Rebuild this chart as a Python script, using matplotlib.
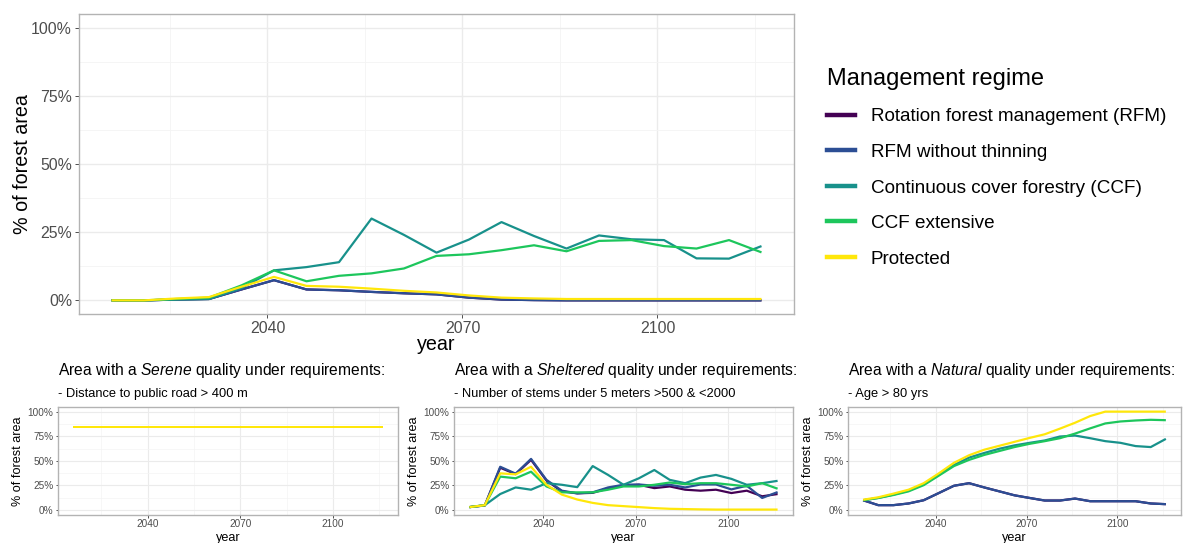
import matplotlib
matplotlib.use("Agg")
import matplotlib.pyplot as plt
from matplotlib.lines import Line2D
from matplotlib.ticker import FixedLocator, FuncFormatter

plt.rcParams['font.family'] = ['Liberation Sans', 'DejaVu Sans']
plt.rcParams['mathtext.fontset'] = 'custom'
plt.rcParams['mathtext.rm'] = 'Liberation Sans'
plt.rcParams['mathtext.it'] = 'Liberation Sans:italic'

# ---------------- data ----------------
years = [2016, 2021, 2026, 2031, 2036, 2041, 2046, 2051, 2056, 2061, 2066,
         2071, 2076, 2081, 2086, 2091, 2096, 2101, 2106, 2111, 2116]

regimes = ["Rotation forest management (RFM)", "RFM without thinning",
           "Continuous cover forestry (CCF)", "CCF extensive", "Protected"]
colors = ["#440154", "#2C4E94", "#18918B", "#1DC65C", "#FFE70A"]

# main panel
main_rfm = [0, 0, 0.3, 0.5, 4, 7.4, 4.0, 3.7, 3.1, 2.6, 2.2, 1.0, 0.3, 0.1, 0, 0, 0, 0, 0, 0, 0]
main_rfm_nt = [0, 0, 0.3, 0.5, 4, 7.4, 4.0, 3.7, 3.1, 2.6, 2.2, 1.0, 0.3, 0.1, 0, 0, 0, 0, 0, 0, 0]
main_ccf = [0, 0, 0.3, 0.5, 4.5, 11, 12.2, 14, 30, 24, 17.5, 22.3, 28.7, 23.6, 19, 23.8, 22.4, 22.1, 15.4, 15.3, 19.9]
main_ccfe = [0, 0, 0.5, 1, 5.5, 11, 7, 9, 9.9, 11.7, 16.3, 16.9, 18.4, 20.2, 18, 21.8, 22.1, 19.9, 19, 22.1, 17.6]
main_prot = [0, 0, 0.7, 1.2, 5, 8.6, 5.3, 5, 4.3, 3.5, 2.9, 1.8, 1, 0.7, 0.5, 0.5, 0.5, 0.5, 0.5, 0.5, 0.5]

# Serene panel
se_rfm = [84] * 21
se_rfm_nt = [84] * 21
se_ccf = [84] * 21
se_ccfe = [84] * 21
se_prot = [84] * 21

# Sheltered panel
sh_rfm = [3, 4.7, 43, 36.5, 51, 30, 19, 17, 17.5, 22, 25, 25.7, 22.3, 24, 20.7, 19.7, 20.7, 17.3, 19.7, 14, 16.3]
sh_rfm_nt = [3, 4.7, 44, 37, 52, 30.7, 19.7, 17, 18, 23, 25.7, 26, 24.7, 25.7, 23, 26, 26, 21, 24.7, 12.3, 18.3]
sh_ccf = [3, 5, 16.3, 23, 20.7, 27.3, 25.7, 23.3, 44.7, 35.7, 25.7, 32.3, 40.7, 30.7, 27.3, 33, 35.7, 31.7, 25.7, 27.3, 29.7]
sh_ccfe = [3, 5, 34, 32.3, 39, 24, 18, 18, 18, 20.7, 24, 24, 25.7, 28, 26.3, 27.3, 27.3, 25.7, 24, 27.3, 21.7]
sh_prot = [3, 5, 37.3, 36.3, 44, 25.7, 15.7, 10.7, 7.3, 5, 4, 3, 2, 1.3, 1, 0.7, 0.5, 0.5, 0.5, 0.5, 0.5]

# Natural panel
na_rfm = [10, 5, 5, 6.7, 10, 17.3, 24.7, 27.3, 23, 19, 15, 12.3, 9.7, 9.7, 11.7, 9, 9, 9, 9, 6.7, 6]
na_rfm_nt = [10, 5, 5, 6.7, 10, 17.3, 24.7, 27.3, 23, 19, 15, 12.3, 9.7, 9.7, 11.7, 9, 9, 9, 9, 6.7, 6]
na_ccf = [10, 12.3, 15.7, 19.7, 26.3, 35.7, 45.7, 53.3, 58, 62.3, 65.7, 68.3, 70.7, 74.7, 75.7, 73, 70, 68.3, 65, 64, 72.3]
na_ccfe = [10, 12.3, 15.3, 19, 25.3, 35, 44.7, 51, 56, 60, 64, 67.3, 70, 73, 77.7, 83, 88, 90, 91, 91.7, 91.3]
na_prot = [10.5, 13, 16.7, 20.7, 27.3, 37.3, 48, 55.7, 61.3, 65.3, 69.3, 73.3, 77, 82.7, 88.7, 95.5, 100, 100, 100, 100, 100]

x_major = [2040, 2070, 2100]
x_minor = [2025, 2055, 2085, 2115]
y_major = [0, 25, 50, 75, 100]
y_minor = [12.5, 37.5, 62.5, 87.5]

panel_titles = [r"Area with a $\mathit{Serene}$ quality under requirements:",
                r"Area with a $\mathit{Sheltered}$ quality under requirements:",
                r"Area with a $\mathit{Natural}$ quality under requirements:"]
panel_subtitles = ["- Distance to public road > 400 m",
                   "- Number of stems under 5 meters >500 & <2000",
                   "- Age > 80 yrs"]

# ---------------- drawing ----------------
W, H = 1183, 543
fig = plt.figure(figsize=(W / 100, H / 100), dpi=100)
fig.patch.set_facecolor("white")


def px_axes(x0, y0, x1, y1):
    return fig.add_axes([x0 / W, 1 - y1 / H, (x1 - x0) / W, (y1 - y0) / H])


def style(ax, tick_size, tick_len, tick_pad, lw_major, lw_minor):
    ax.set_xlim(2011, 2121)
    ax.set_ylim(-5, 105)
    ax.xaxis.set_major_locator(FixedLocator(x_major))
    ax.xaxis.set_minor_locator(FixedLocator(x_minor))
    ax.yaxis.set_major_locator(FixedLocator(y_major))
    ax.yaxis.set_minor_locator(FixedLocator(y_minor))
    ax.yaxis.set_major_formatter(FuncFormatter(lambda v, p: f"{int(v)}%"))
    ax.grid(True, which="major", color="#EBEBEB", lw=lw_major, zorder=0)
    ax.grid(True, which="minor", color="#F4F4F4", lw=lw_minor, zorder=0)
    ax.set_axisbelow(True)
    ax.tick_params(which="major", labelsize=tick_size, labelcolor="#4D4D4D",
                   color="#4D4D4D", length=tick_len, pad=tick_pad, width=0.7)
    ax.tick_params(which="minor", length=0)
    for s in ax.spines.values():
        s.set_color("#B3B3B3")
        s.set_linewidth(1.0)


# Main panel
ax = px_axes(79, 14, 794, 314)
style(ax, 11.4, 2.75, 2.2, 1.0, 0.6)
for vals, c in zip([main_rfm, main_rfm_nt, main_ccf, main_ccfe, main_prot], colors):
    ax.plot(years, vals, color=c, lw=1.6, solid_capstyle="butt", zorder=3)
ax.set_ylabel("% of forest area", fontsize=14.2, color="black", va="center")
ax.yaxis.set_label_coords((22 - 79) / 715, 0.5)
ax.set_xlabel("year", fontsize=14.2, color="black", va="center")
ax.xaxis.set_label_coords(0.5, (314 - 345) / 300)

# Legend
handles = [Line2D([0], [0], color=c, lw=3.2) for c in colors]
leg = fig.legend(handles, regimes, loc="upper left",
                 bbox_to_anchor=(818 / W, 1 - 59 / H), frameon=False,
                 title="Management regime", title_fontsize=17, fontsize=13.6,
                 handlelength=1.48, handletextpad=0.85, labelspacing=0.97,
                 alignment="left", borderpad=0.47, borderaxespad=0)

# Bottom panels
panel_data = [
    [se_rfm, se_rfm_nt, se_ccf, se_ccfe, se_prot],
    [sh_rfm, sh_rfm_nt, sh_ccf, sh_ccfe, sh_prot],
    [na_rfm, na_rfm_nt, na_ccf, na_ccfe, na_prot],
]
panel_x = [(58, 398), (454, 793), (848, 1181)]
py0, py1 = 406.7, 515
for i, ((x0, x1), series, ttl, sub) in enumerate(zip(panel_x, panel_data, panel_titles, panel_subtitles)):
    a = px_axes(x0, py0, x1, py1)
    style(a, 7.2, 1.8, 1.4, 0.8, 0.5)
    for vals, c in zip(series, colors):
        if i == 0:
            a.plot(years, vals, color=c, lw=1.44, solid_capstyle="butt",
                   zorder=3, antialiased=False)
        else:
            a.plot(years, vals, color=c, lw=1.6, solid_capstyle="butt", zorder=3)
    w = x1 - x0
    h = py1 - py0
    a.set_ylabel("% of forest area", fontsize=9.1, color="black", va="center")
    a.yaxis.set_label_coords(-40 / w, 0.5)
    a.set_xlabel("year", fontsize=9.1, color="black", va="center")
    a.xaxis.set_label_coords(0.5, (py1 - 537.5) / h)
    a.text(0, (py1 - 370) / h, ttl, transform=a.transAxes, fontsize=11.25,
           ha="left", va="center", color="black")
    a.text(0, (py1 - 394) / h, sub, transform=a.transAxes, fontsize=9.3,
           ha="left", va="center", color="black")

fig.savefig("out.png", dpi=100)
